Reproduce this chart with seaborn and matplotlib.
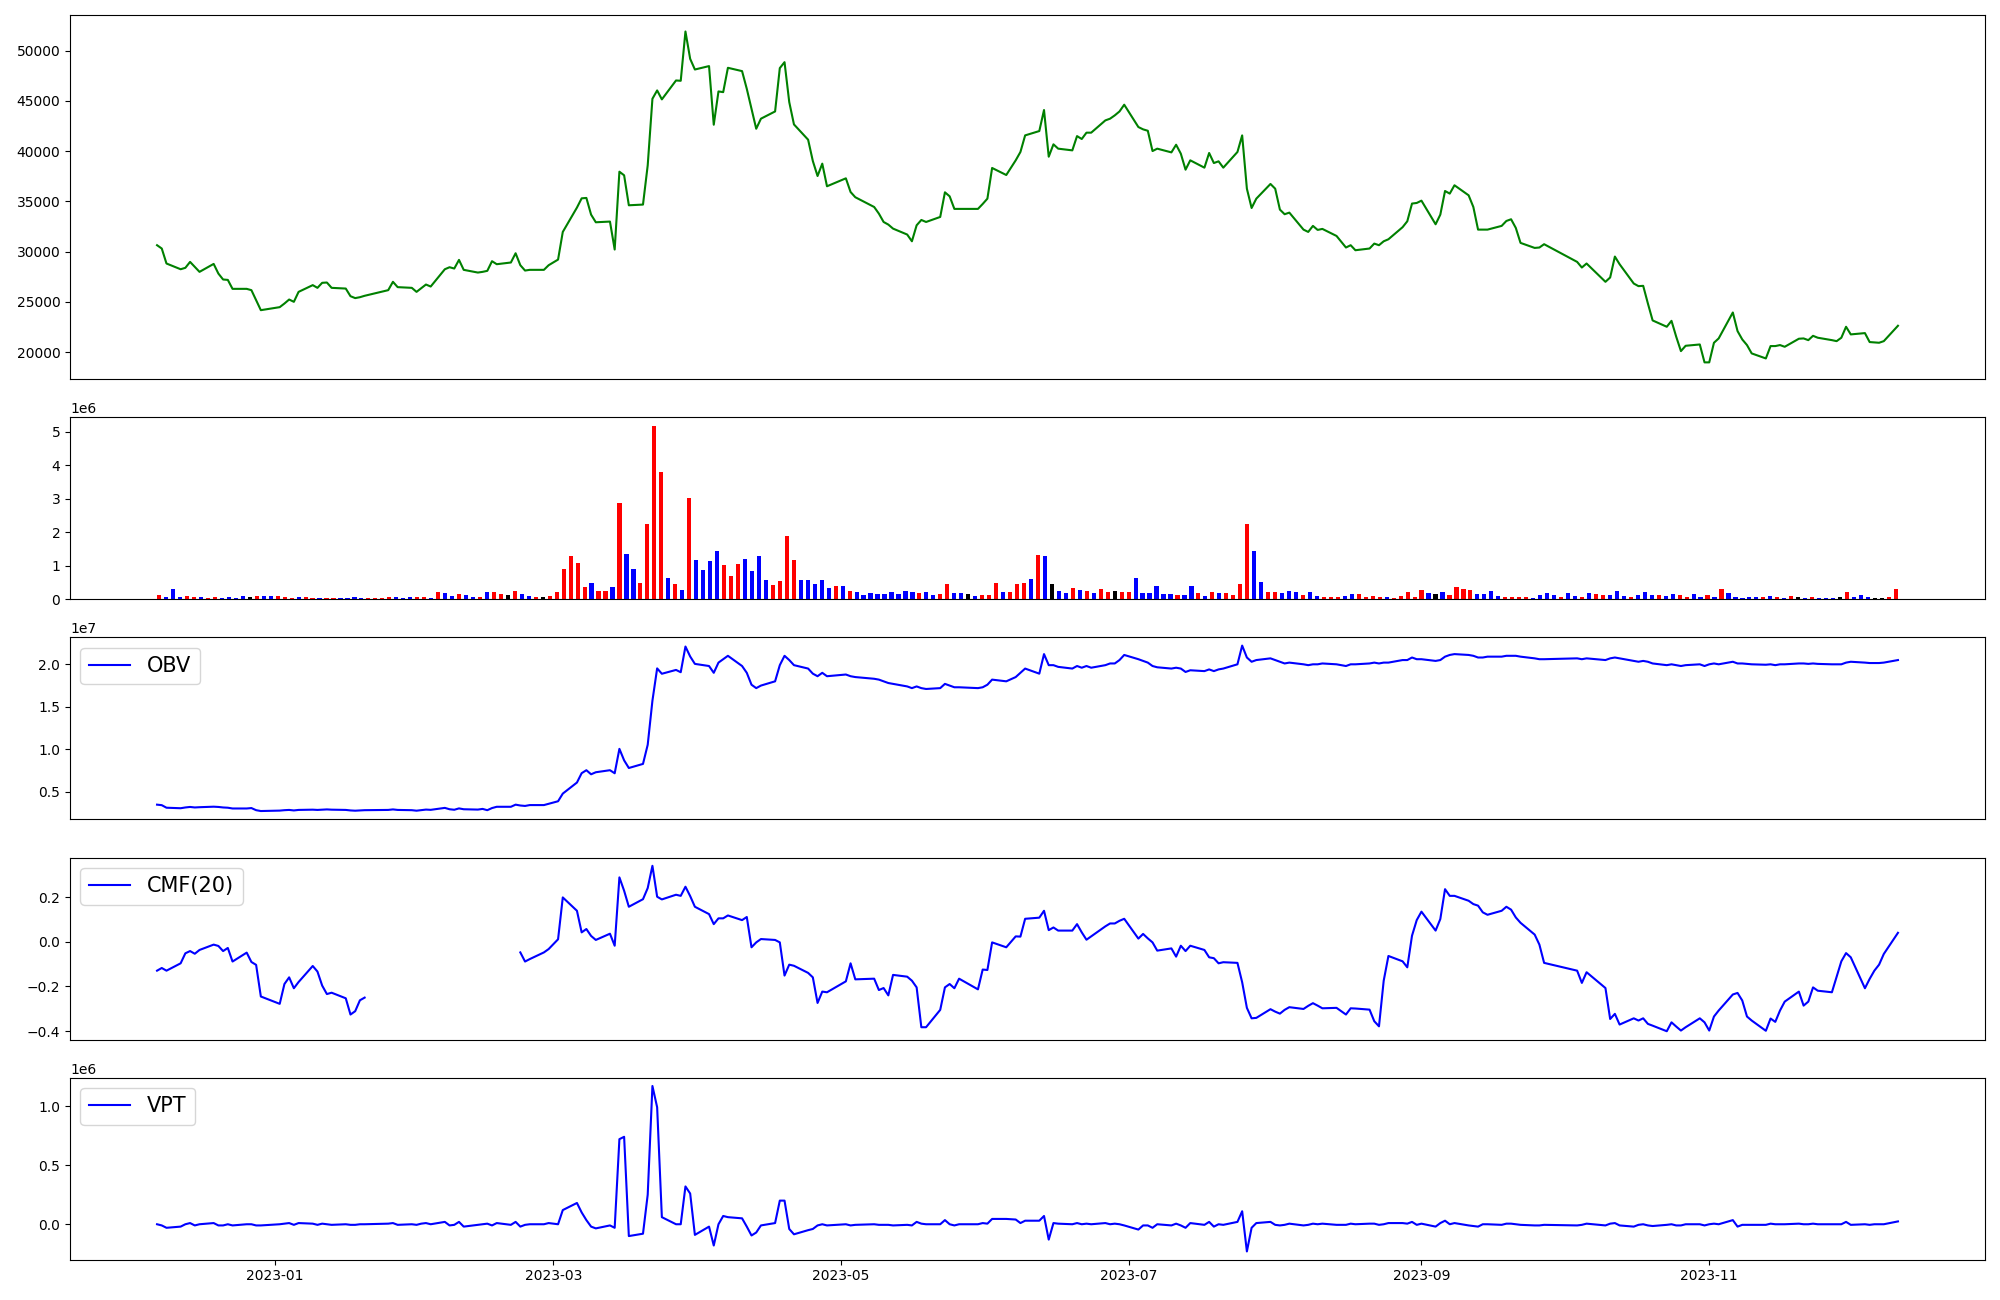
import numpy as np
import pandas as pd
import matplotlib
matplotlib.use("Agg")
import matplotlib.pyplot as plt
import seaborn as sns

# ------------------------------
# trading days (KRX calendar, holidays removed)
# ------------------------------
holidays = ["2022-12-30", "2023-01-23", "2023-01-24", "2023-03-01", "2023-05-01",
            "2023-05-05", "2023-05-29", "2023-06-06", "2023-08-15", "2023-09-28",
            "2023-09-29", "2023-10-02", "2023-10-03", "2023-10-09"]
dates = pd.bdate_range("2022-12-07", "2023-12-11")
dates = dates[~dates.isin(pd.to_datetime(holidays))]

# ------------------------------
# close price
# ------------------------------
close = [
    30640, 30310, 28820, 28250, 28390, 28980, 28490, 27990, 28780, 27820, 27230, 27190, 26300, 26300, 26170, 25180, 24180,
    24480, 24840, 25240, 25010, 26000, 26670, 26400, 26900, 26930, 26400, 26330, 25570, 25380, 25470, 25610, 26170, 27000, 26470, 26400, 26000,
    26370, 26730, 26530, 28250, 28450, 28320, 29180, 28190, 27920, 27990, 28090, 29050, 28750, 28920, 29840, 28650, 28120, 28190, 28190, 28650,
    29210, 31960, 34380, 35300, 35340, 33680, 32920, 32990, 30210, 37950, 37590, 34610, 34680, 38580, 45200, 46030, 45140, 47020, 46990, 51890, 49170, 48110,
    48450, 42620, 45930, 45860, 48280, 47950, 46190, 44210, 42220, 43220, 43940, 48250, 48840, 44870, 42650, 41130, 39010, 37520, 38750, 36500,
    37290, 35930, 35410, 34440, 33780, 32950, 32690, 32290, 31700, 31030, 32620, 33150, 32950, 33450, 35900, 35500, 34250, 34250, 34250, 34740,
    35270, 38320, 37620, 39080, 39910, 41560, 41990, 44080, 39440, 40670, 40240, 40070, 41490, 41200, 41830, 41830, 43050, 43220, 43550, 43940, 44610,
    42390, 42160, 42020, 40000, 40240, 39870, 40630, 39740, 38150, 39080, 38350, 39810, 38810, 38980, 38350, 39910, 41560, 36260, 34340, 35270, 36730,
    36260, 34180, 33720, 33880, 32190, 31960, 32560, 32160, 32260, 31560, 30410, 30640, 30140, 30310, 30800, 30640, 31030, 31230, 32430, 33020, 34780, 34840,
    35070, 32720, 33680, 36030, 35770, 36600, 35600, 34440, 32190, 32190, 32190, 32560, 33050, 33220, 32360, 30870, 30370, 30410, 30740,
    28980, 28420, 28820, 27000, 27430, 29510, 28750, 26830, 26570, 26600, 24840, 23160, 22530, 23120, 21540, 20110, 20640, 20770, 18990,
    18990, 20940, 21370, 23950, 22100, 21270, 20710, 19880, 19380, 20610, 20610, 20710, 20540, 21340, 21370, 21200, 21630, 21440, 21200, 21100, 21440, 22530,
    21770, 21900, 21010, 20970, 20940, 21100, 22630,
]

# ------------------------------
# volume (x 1e6) and day direction: r = up, b = down, k = flat
# ------------------------------
volume = [
    .12, .06, .30, .06, .09, .06, .06, .03, .06, .03, .06, .03, .09, .06, .09, .09, .09,
    .09, .06, .03, .06, .06, .03, .03, .03, .03, .03, .03, .06, .03, .03, .03, .03, .06, .06, .03, .06,
    .06, .06, .03, .21, .18, .09, .15, .12, .06, .06, .21, .21, .15, .12, .24, .15, .09, .06, .06, .09,
    .21, .90, 1.29, 1.08, .36, .48, .24, .24, .36, 2.87, 1.35, .90, .48, 2.25, 5.18, 3.80, .63, .45, .27, 3.02, 1.17, .87,
    1.14, 1.44, 1.02, .69, 1.05, 1.20, .84, 1.29, .57, .42, .54, 1.89, 1.17, .57, .57, .45, .57, .33, .39, .39,
    .24, .21, .12, .18, .15, .15, .21, .15, .24, .21, .18, .21, .12, .15, .45, .18, .18, .15, .09, .12,
    .12, .48, .21, .21, .45, .48, .60, 1.32, 1.29, .45, .24, .18, .33, .27, .24, .18, .30, .21, .24, .21, .21,
    .63, .18, .18, .39, .15, .15, .12, .12, .39, .18, .09, .21, .18, .18, .12, .45, 2.25, 1.44, .51, .21, .21,
    .18, .24, .21, .12, .21, .09, .06, .06, .06, .09, .15, .15, .06, .09, .06, .06, .03, .09, .21, .06, .27, .18,
    .15, .21, .12, .36, .30, .27, .15, .15, .24, .09, .06, .06, .06, .06, .03, .12, .18, .12, .06,
    .18, .09, .06, .18, .15, .12, .12, .24, .09, .06, .12, .21, .12, .12, .09, .15, .12, .06, .15,
    .06, .12, .06, .30, .18, .06, .03, .06, .06, .06, .09, .06, .03, .09, .06, .03, .06, .03, .03, .03, .06, .21,
    .06, .12, .06, .03, .03, .06, .30,
]
direction = list(
    "rbbbrrbrrbbbbkrbb"
    "rrrbrrbrrbbbbrrrrbbb"
    "rrbrbbrbbrbrrkrbbrkr"
    "rrrrrbrrbrbbrrrrbrbrbb"
    "bbrrrbbbbrrrrbbbbbrb"
    "rbbbbbbbbbrbbrrbbkbr"
    "rrbrrrbrbkbbrbrbrrkrr"
    "bbbbbbrbbrbrbrrrrbbrr"
    "bbbrbbrrrbbrrrrbrrrrrb"
    "kbrrrrbbbbrrrrbbbbr"
    "bbrbrrbbbrbbbrbbrrb"
    "brbrbbbbbrbrbrkbrbbbkr"
    "bbbkkrr"
)

# ------------------------------
# indicators
# ------------------------------
obv = [  # x 1e7
    .350, .344, .314, .308, .317, .323, .317, .320, .326, .323, .317, .314, .305, .305, .310, .285, .275,
    .280, .285, .288, .282, .288, .291, .288, .291, .294, .291, .288, .282, .279, .282, .285, .288, .294, .288, .285, .279,
    .285, .292, .289, .312, .296, .290, .306, .296, .292, .300, .285, .310, .325, .325, .350, .340, .335, .345, .345, .360,
    .390, .480, .610, .720, .755, .707, .731, .755, .719, 1.006, .871, .781, .829, 1.054, 1.572, 1.952, 1.889, 1.934, 1.907, 2.209, 2.092, 2.005,
    1.98, 1.90, 2.02, 2.06, 2.10, 1.98, 1.90, 1.76, 1.72, 1.75, 1.80, 1.99, 2.10, 2.05, 1.99, 1.95, 1.89, 1.86, 1.90, 1.86,
    1.88, 1.86, 1.85, 1.83, 1.82, 1.80, 1.78, 1.77, 1.74, 1.72, 1.74, 1.72, 1.71, 1.72, 1.77, 1.75, 1.73, 1.73, 1.72, 1.73,
    1.76, 1.82, 1.80, 1.85, 1.90, 1.95, 1.89, 2.12, 1.99, 1.99, 1.97, 1.95, 1.98, 1.96, 1.98, 1.96, 1.99, 2.01, 2.01, 2.05, 2.11,
    2.06, 2.04, 2.02, 1.98, 1.965, 1.95, 1.96, 1.95, 1.91, 1.93, 1.92, 1.94, 1.92, 1.94, 1.95, 2.00, 2.22, 2.08, 2.03, 2.05, 2.07,
    2.05, 2.03, 2.01, 2.02, 2.00, 1.99, 2.00, 2.00, 2.01, 2.00, 1.98, 2.00, 2.00, 2.01, 2.02, 2.01, 2.02, 2.02, 2.05, 2.05, 2.08, 2.06,
    2.06, 2.04, 2.05, 2.09, 2.11, 2.12, 2.11, 2.10, 2.08, 2.08, 2.09, 2.09, 2.10, 2.10, 2.10, 2.09, 2.07, 2.06, 2.06,
    2.07, 2.06, 2.07, 2.05, 2.07, 2.08, 2.07, 2.04, 2.03, 2.04, 2.03, 2.01, 1.99, 2.00, 1.99, 1.98, 1.99, 2.00, 1.98,
    2.00, 2.01, 2.00, 2.03, 2.01, 2.01, 2.005, 2.00, 1.995, 2.00, 1.99, 2.00, 2.00, 2.01, 2.01, 2.005, 2.01, 2.005, 2.00, 2.00, 2.00, 2.02,
    2.03, 2.02, 2.015, 2.015, 2.015, 2.02, 2.05,
]
cmf = [
    -.129, -.117, -.129, -.096, -.051, -.041, -.053, -.036, -.012, -.018, -.041, -.027, -.088, -.048, -.090, -.103, -.245,
    -.278, -.189, -.159, -.208, -.180, -.108, -.133, -.196, -.234, -.228, -.253, -.326, -.311, -.262, -.250,
    None, None, None, None, None, None, None, None, None, None,
    None, None, None, None, None, None, None, None, None, None,
    -.047, -.088, -.077, -.047, -.032,
    .012, .200, .140, .043, .058, .027, .009, .037, -.017, .290, .230, .158, .192, .242, .342, .203, .191, .212, .207, .248, .206, .158,
    .125, .080, .106, .106, .119, .098, .112, -.024, -.002, .013, .009, -.002, -.151, -.102, -.107, -.139, -.159, -.274, -.223, -.226,
    -.177, -.096, -.168, -.165, -.216, -.207, -.240, -.148, -.156, -.174, -.204, -.383, -.383, -.305, -.204, -.189, -.208, -.165, -.213, -.124,
    -.126, -.002, -.024, .025, .024, .104, .109, .140, .053, .065, .051, .051, .080, .043, .010, .025, .070, .083, .083, .095, .104,
    .015, .036, .016, -.002, -.039, -.029, -.066, -.017, -.041, -.017, -.036, -.069, -.073, -.096, -.091, -.094, -.181, -.296, -.343, -.341, -.302,
    -.313, -.322, -.305, -.293, -.301, -.287, -.275, -.286, -.298, -.296, -.326, -.298, -.299, -.304, -.356, -.379, -.174, -.063, -.087, -.114, .028, .098,
    .136, .051, .103, .237, .207, .207, .185, .170, .163, .133, .122, .140, .158, .145, .110, .086, .033, -.012, -.094,
    -.129, -.184, -.136, -.207, -.346, -.323, -.371, -.343, -.353, -.343, -.368, -.376, -.401, -.361, -.380, -.398, -.383, -.343, -.361,
    -.398, -.335, -.308, -.236, -.229, -.263, -.335, -.353, -.399, -.344, -.359, -.308, -.268, -.223, -.286, -.268, -.204, -.219, -.226, -.156, -.087, -.050,
    -.069, -.208, -.166, -.129, -.102, -.054, .041,
]
vpt = [  # x 1e6
    0.0, -.01, -.03, -.02, 0.0, .01, -.01, 0.0, .01, -.01, -.01, 0.0, -.01, 0.0, 0.0, -.01, -.01,
    0.0, .005, .01, -.005, .01, .005, -.005, .005, 0.0, -.005, 0.0, -.005, -.005, 0.0, 0.0, .005, .01, -.005, 0.0, -.005,
    .005, .01, 0.0, .02, -.01, -.005, .02, -.02, -.005, 0.0, .005, -.01, .01, -.005, .02, -.02, -.005, 0.0, 0.0, .01,
    0.0, .12, .18, .10, .035, -.02, -.035, -.01, -.03, .72, .74, -.10, -.08, .25, 1.17, .99, .06, 0.0, 0.0, .32, .26, -.09,
    -.02, -.18, 0.0, .07, .06, .05, -.02, -.095, -.07, -.01, .01, .20, .20, -.04, -.085, -.05, -.04, -.01, 0.0, -.01,
    0.0, -.01, -.005, 0.0, -.005, -.005, -.005, -.01, -.005, -.01, .02, .005, 0.0, 0.0, .035, 0.0, -.01, 0.0, 0.0, .01,
    .005, .045, .045, .04, .01, .03, .03, .07, -.13, .01, .005, 0.0, .01, 0.0, .005, 0.0, .01, 0.0, .005, 0.0, -.01,
    -.045, -.01, -.01, -.03, 0.0, -.01, .005, -.01, -.03, .01, -.005, .02, -.02, 0.0, -.005, .02, .11, -.23, -.03, .01, .02,
    -.005, -.01, -.005, .005, -.01, -.005, .005, 0.0, .005, -.005, -.005, .005, 0.0, .005, .005, -.005, 0.0, .01, .01, .005, .02, -.005,
    .005, -.02, .01, .03, 0.0, .01, -.01, -.015, -.02, 0.0, 0.0, -.005, .005, .005, 0.0, -.005, -.01, -.01, -.005,
    -.01, -.005, .005, -.01, .005, .01, -.01, -.02, -.005, 0.0, -.01, -.015, -.005, 0.0, -.01, -.01, 0.0, 0.0, -.01,
    0.0, .005, 0.0, .035, -.02, -.005, -.005, -.005, -.005, .005, 0.0, 0.0, 0.0, .005, 0.0, 0.0, .005, 0.0, 0.0, 0.0, 0.0, .02,
    -.005, 0.0, -.005, 0.0, 0.0, 0.0, .024,
]

for name, arr in [("close", close), ("volume", volume), ("direction", direction),
                  ("obv", obv), ("cmf", cmf), ("vpt", vpt)]:
    assert len(arr) == len(dates), (name, len(arr), len(dates))

df = pd.DataFrame({
    "date": dates,
    "close": close,
    "volume": np.array(volume) * 1e6,
    "obv": np.array(obv) * 1e7,
    "cmf": np.array(cmf, dtype=float),
    "vpt": np.array(vpt) * 1e6,
})
# CMF has a run of missing values: keep the gap by drawing each run on its own
df["cmf_run"] = df["cmf"].isna().cumsum()
bar_colors = {"r": "red", "b": "blue", "k": "black"}

# ------------------------------
# figure
# ------------------------------
fig = plt.figure(figsize=(20, 13), dpi=100)
gs = fig.add_gridspec(5, 1, height_ratios=[2, 1, 1, 1, 1], left=0.035, right=0.9925,
                      top=0.9885, bottom=0.031, hspace=0.175)
axes = [fig.add_subplot(gs[i]) for i in range(5)]

# price
sns.lineplot(data=df, x="date", y="close", color="green", estimator=None, ax=axes[0])

# volume (bars on row position)
axes[1].bar(np.arange(len(df)), df["volume"], width=0.6,
            color=[bar_colors[c] for c in direction])

# OBV / CMF / VPT
sns.lineplot(data=df, x="date", y="obv", color="blue", estimator=None, label="OBV", ax=axes[2])
cmf_runs = [g.dropna(subset=["cmf"]) for _, g in df.groupby("cmf_run")]
cmf_runs = [g for g in cmf_runs if len(g)]
for k, g in enumerate(cmf_runs):
    sns.lineplot(data=g, x="date", y="cmf", color="blue", estimator=None,
                 label="CMF(20)" if k == 0 else None, ax=axes[3])
sns.lineplot(data=df, x="date", y="vpt", color="blue", estimator=None, label="VPT", ax=axes[4])

for ax in axes[2:]:
    ax.legend(loc="upper left", fontsize=15)

for ax in axes:
    ax.set_xlabel("")
    ax.set_ylabel("")
for ax in axes[:4]:
    ax.set_xticks([])

fig.savefig("out.png", dpi=100)
